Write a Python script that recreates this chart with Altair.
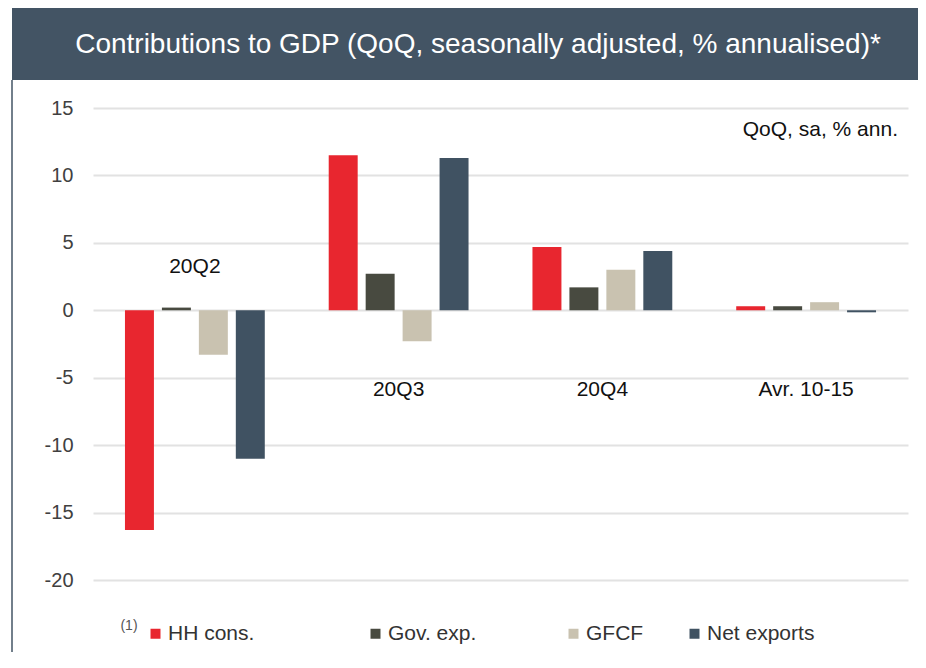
import altair as alt
import pandas as pd

# ---- data ----
groups = ["20Q2", "20Q3", "20Q4", "Avr. 10-15"]
series = ["HH cons.", "Gov. exp.", "GFCF", "Net exports"]
hh_cons = [-16.3, 11.5, 4.7, 0.3]
gov_exp = [0.2, 2.7, 1.7, 0.3]
gfcf = [-3.3, -2.3, 3.0, 0.6]
net_exports = [-11.0, 11.3, 4.4, -0.15]
y_ticks = [-20, -15, -10, -5, 0, 5, 10, 15]
colors = ["#E8262F", "#484A40", "#C9C2B0", "#405262"]

TITLE = "Contributions to GDP (QoQ, seasonally adjusted, % annualised)*"
UNIT_NOTE = "QoQ, sa, % ann."
FOOTNOTE = "(1)"

# annotation anchors (data units) for the group labels
group_label_anchor = [3.2, -5.9, -5.9, -5.9]

rows = []
for name, vals in zip(series, [hh_cons, gov_exp, gfcf, net_exports]):
    for g, v in zip(groups, vals):
        rows.append({"group": g, "series": name, "value": v})
df = pd.DataFrame(rows)
labels_df = pd.DataFrame({"group": groups, "anchor": group_label_anchor})
one = pd.DataFrame({"k": [0]})

FONT = "Liberation Sans"
BANNER = "#435464"

x_scale = alt.Scale(domain=groups, paddingInner=0, paddingOuter=0)
y_scale = alt.Scale(domain=[-20, 15], nice=False, zero=False)

# trailing non-breaking spaces closed by a zero-width char so they are not trimmed
NB = "\u00a0"
ZW = "\u200b"
label_expr = (
    f"datum.label == 'HH cons.' ? 'HH cons.{NB * 12}{ZW}' : "
    f"datum.label == 'Gov. exp.' ? 'Gov. exp.{NB * 8}{ZW}' : datum.label"
)

bars = alt.Chart(df).mark_bar().encode(
    x=alt.X("group:N", scale=x_scale, sort=groups, axis=None),
    xOffset=alt.XOffset(
        "series:N",
        sort=series,
        scale=alt.Scale(domain=series, paddingInner=0.216, paddingOuter=0.865),
    ),
    y=alt.Y(
        "value:Q",
        scale=y_scale,
        axis=alt.Axis(
            values=y_ticks,
            title=None,
            labelExpr="datum.value + ''",
            labelFontSize=20,
            labelFont=FONT,
            labelColor="#404040",
            labelPadding=20,
            ticks=False,
            domain=False,
            grid=True,
            gridColor="#E2E2E2",
            gridWidth=2,
        ),
    ),
    color=alt.Color(
        "series:N",
        scale=alt.Scale(domain=series, range=colors),
        legend=alt.Legend(
            title=None,
            orient="none",
            legendX=52,
            legendY=515,
            direction="horizontal",
            columns=4,
            columnPadding=40,
            symbolType="square",
            symbolSize=100,
            symbolStrokeWidth=0,
            symbolOpacity=1,
            labelFontSize=21,
            labelFont=FONT,
            labelColor="#333333",
            labelOffset=2,
            labelLimit=400,
            padding=0,
            labelExpr=label_expr,
        ),
    ),
)

group_labels = alt.Chart(labels_df).mark_text(
    fontSize=21, font=FONT, color="#111111", baseline="middle", align="center"
).encode(
    x=alt.X("group:N", scale=x_scale, sort=groups, axis=None),
    y=alt.Y("anchor:Q", scale=y_scale),
    text="group:N",
)

banner = alt.Chart(one).mark_rect(color=BANNER).encode(
    x=alt.value(-81), x2=alt.value(833), y=alt.value(-100), y2=alt.value(-28)
)

title_text = alt.Chart(one).mark_text(
    text=TITLE, fontSize=28, font=FONT, color="white", align="center", baseline="middle"
).encode(x=alt.value(385), y=alt.value(-63))

border = alt.Chart(one).mark_rule(color=BANNER, strokeWidth=1.5).encode(
    x=alt.value(-81), y=alt.value(-28), y2=alt.value(544)
)

unit_note = alt.Chart(one).mark_text(
    text=UNIT_NOTE, fontSize=21, font=FONT, color="#111111", align="right", baseline="middle"
).encode(x=alt.value(805), y=alt.value(22))

footnote = alt.Chart(one).mark_text(
    text=FOOTNOTE, fontSize=14, font=FONT, color="#555555", align="center", baseline="middle"
).encode(x=alt.value(36), y=alt.value(518))

chart = (
    alt.layer(banner, border, bars, group_labels, title_text, unit_note, footnote)
    .properties(
        width=815,
        height=472,
        autosize=alt.AutoSizeParams(type="none"),
        padding={"left": 85, "top": 100, "right": 10, "bottom": 72},
        background="white",
    )
    .configure_view(stroke=None)
)

chart.save("out.html", embed_options={"renderer": "svg", "actions": False})
